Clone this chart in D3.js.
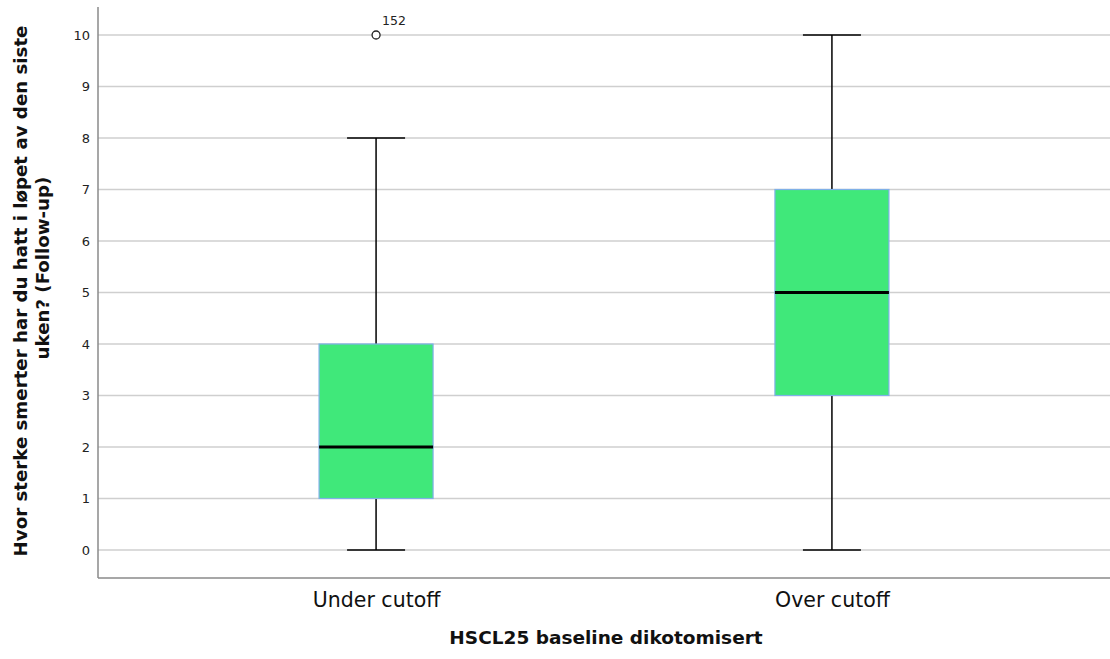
<!DOCTYPE html>
<html><head><meta charset="utf-8">
<script src="https://cdn.jsdelivr.net/npm/d3@7"></script>
<style>body{margin:0;background:#fff}svg{display:block}</style>
</head><body>
<svg id="c" width="1110" height="659"></svg>
<script>
const categories = ["Under cutoff", "Over cutoff"];
const whiskerLow = [0, 0];
const q1 = [1, 3];
const median = [2, 5];
const q3 = [4, 7];
const whiskerHigh = [8, 10];
const outlierValues = [[10], []];
const outlierLabels = [["152"], []];
const yTicks = [0,1,2,3,4,5,6,7,8,9,10];

const svg = d3.select("#c");
const L = 98, R = 1110, T = 7, B = 578;
const y = d3.scaleLinear().domain([-0.544, 10.544]).range([B, T]);
const x = d3.scalePoint().domain(categories).range([L, R]).padding(0.61);
const boxW = 114, capW = 58;
const font = "DejaVu Sans, sans-serif";

// gridlines
svg.append("g").selectAll("line").data(yTicks).join("line")
  .attr("x1", L).attr("x2", R)
  .attr("y1", d => y(d)).attr("y2", d => y(d))
  .attr("stroke", "#cfcfcf").attr("stroke-width", 1.5);

// y axis
const yAxis = svg.append("g").attr("transform", `translate(${L},0)`)
  .call(d3.axisLeft(y).tickValues(yTicks).tickSize(0).tickPadding(8));
yAxis.select(".domain").remove();
yAxis.selectAll("text").attr("font-family", font).attr("font-size", 13).attr("fill", "#222");

// x axis
const xAxis = svg.append("g").attr("transform", `translate(0,${B})`)
  .call(d3.axisBottom(x).tickSize(0).tickPadding(14.5));
xAxis.select(".domain").remove();
xAxis.selectAll("text").attr("font-family", font).attr("font-size", 20.5).attr("fill", "#111");

// axis lines
svg.append("line").attr("x1", L).attr("x2", L).attr("y1", T).attr("y2", B)
  .attr("stroke", "#8a8a8a").attr("stroke-width", 1.5);
svg.append("line").attr("x1", L).attr("x2", R).attr("y1", B).attr("y2", B)
  .attr("stroke", "#8a8a8a").attr("stroke-width", 1.5);

const data = categories.map((c, i) => ({c, lo: whiskerLow[i], q1: q1[i], med: median[i], q3: q3[i], hi: whiskerHigh[i], out: outlierValues[i], lab: outlierLabels[i]}));

const g = svg.append("g").selectAll("g").data(data).join("g");
// whiskers
g.append("line").attr("x1", d => x(d.c)).attr("x2", d => x(d.c))
  .attr("y1", d => y(d.lo)).attr("y2", d => y(d.q1)).attr("stroke", "#000").attr("stroke-width", 1.5);
g.append("line").attr("x1", d => x(d.c)).attr("x2", d => x(d.c))
  .attr("y1", d => y(d.q3)).attr("y2", d => y(d.hi)).attr("stroke", "#000").attr("stroke-width", 1.5);
g.append("line").attr("x1", d => x(d.c) - capW/2).attr("x2", d => x(d.c) + capW/2)
  .attr("y1", d => y(d.lo)).attr("y2", d => y(d.lo)).attr("stroke", "#000").attr("stroke-width", 1.5);
g.append("line").attr("x1", d => x(d.c) - capW/2).attr("x2", d => x(d.c) + capW/2)
  .attr("y1", d => y(d.hi)).attr("y2", d => y(d.hi)).attr("stroke", "#000").attr("stroke-width", 1.5);
// box
g.append("rect").attr("x", d => x(d.c) - boxW/2).attr("width", boxW)
  .attr("y", d => y(d.q3)).attr("height", d => y(d.q1) - y(d.q3))
  .attr("fill", "#40e87a").attr("stroke", "#7fb0e8").attr("stroke-width", 1.2);
// median
g.append("line").attr("x1", d => x(d.c) - boxW/2).attr("x2", d => x(d.c) + boxW/2)
  .attr("y1", d => y(d.med)).attr("y2", d => y(d.med)).attr("stroke", "#000").attr("stroke-width", 3);
// outliers
g.each(function(d) {
  const s = d3.select(this);
  d.out.forEach((v, j) => {
    s.append("circle").attr("cx", x(d.c)).attr("cy", y(v)).attr("r", 4)
      .attr("fill", "#fff").attr("stroke", "#222").attr("stroke-width", 1.3);
    s.append("text").attr("x", x(d.c) + 6).attr("y", y(v) - 10)
      .attr("font-family", font).attr("font-size", 12.5).attr("fill", "#222").text(d.lab[j]);
  });
});

// titles
svg.append("text").attr("x", 606).attr("y", 644).attr("text-anchor", "middle")
  .attr("font-family", font).attr("font-weight", "bold").attr("font-size", 18.5).attr("fill", "#111")
  .text("HSCL25 baseline dikotomisert");
svg.append("text").attr("transform", "translate(26.5,291) rotate(-90)").attr("text-anchor", "middle")
  .attr("font-family", font).attr("font-weight", "bold").attr("font-size", 18.2).attr("fill", "#111")
  .text("Hvor sterke smerter har du hatt i løpet av den siste");
svg.append("text").attr("transform", "translate(48.5,268) rotate(-90)").attr("text-anchor", "middle")
  .attr("font-family", font).attr("font-weight", "bold").attr("font-size", 18.2).attr("fill", "#111")
  .text("uken? (Follow-up)");
</script>
</body></html>
